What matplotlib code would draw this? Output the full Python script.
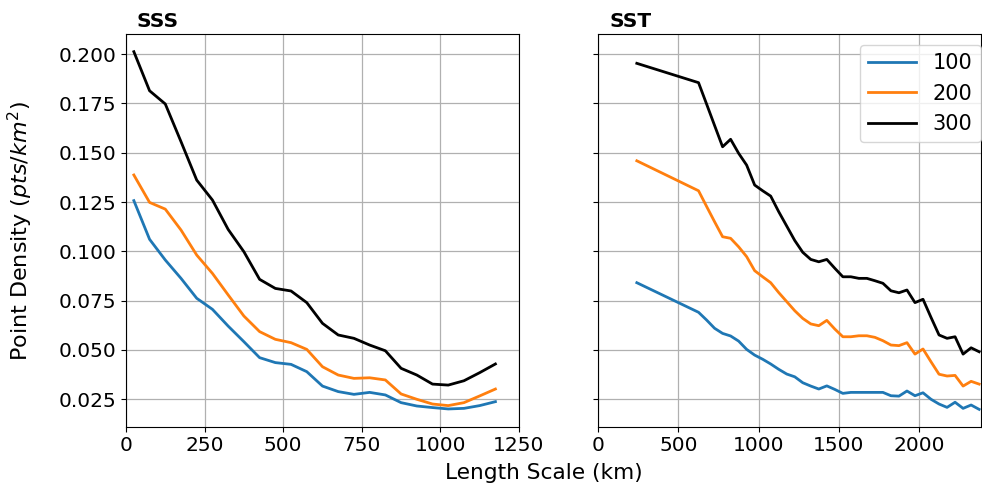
import matplotlib
matplotlib.use("Agg")
import matplotlib.pyplot as plt

# SSS panel: length scale (km) and point density per series
sss_x = [25, 75, 125, 175, 225, 275, 325, 375, 425, 475, 525, 575,
         625, 675, 725, 775, 825, 875, 925, 975, 1025, 1075, 1125, 1175]
sss_100 = [0.1257, 0.1061, 0.0956, 0.0863, 0.0762, 0.0706, 0.0621, 0.0542,
           0.0461, 0.0436, 0.0427, 0.0390, 0.0317, 0.0289, 0.0275, 0.0285,
           0.0272, 0.0233, 0.0216, 0.0208, 0.0201, 0.0204, 0.0218, 0.0238]
sss_200 = [0.1387, 0.1248, 0.1214, 0.1108, 0.0981, 0.0888, 0.0779, 0.0672,
           0.0593, 0.0554, 0.0537, 0.0503, 0.0415, 0.0373, 0.0356, 0.0359,
           0.0348, 0.0277, 0.0250, 0.0226, 0.0218, 0.0233, 0.0267, 0.0302]
sss_300 = [0.2012, 0.1814, 0.1747, 0.1556, 0.1361, 0.1260, 0.1111, 0.0998,
           0.0858, 0.0812, 0.0799, 0.0740, 0.0635, 0.0576, 0.0559, 0.0525,
           0.0496, 0.0407, 0.0373, 0.0327, 0.0322, 0.0344, 0.0385, 0.0429]

# SST panel
sst_x = [240, 625, 675, 725, 775, 825, 875, 925, 975, 1025, 1075, 1125,
         1175, 1225, 1275, 1325, 1375, 1425, 1475, 1525, 1575, 1625, 1675,
         1725, 1775, 1825, 1875, 1925, 1975, 2025, 2075, 2125, 2175, 2225,
         2275, 2325, 2375]
sst_100 = [0.0841, 0.0691, 0.0652, 0.0610, 0.0584, 0.0571, 0.0545, 0.0503,
           0.0474, 0.0453, 0.0429, 0.0402, 0.0378, 0.0364, 0.0334, 0.0317,
           0.0302, 0.0318, 0.0300, 0.0280, 0.0285, 0.0285, 0.0285, 0.0285,
           0.0285, 0.0268, 0.0266, 0.0292, 0.0268, 0.0283, 0.0250, 0.0226,
           0.0209, 0.0235, 0.0204, 0.0221, 0.0199]
sst_200 = [0.1459, 0.1307, 0.1228, 0.1150, 0.1074, 0.1066, 0.1023, 0.0973,
           0.0902, 0.0871, 0.0841, 0.0791, 0.0745, 0.0699, 0.0660, 0.0632,
           0.0623, 0.0650, 0.0606, 0.0567, 0.0567, 0.0572, 0.0572, 0.0564,
           0.0547, 0.0525, 0.0522, 0.0537, 0.0479, 0.0505, 0.0440, 0.0377,
           0.0368, 0.0371, 0.0317, 0.0341, 0.0327]
sst_300 = [0.1953, 0.1855, 0.1747, 0.1638, 0.1530, 0.1568, 0.1497, 0.1437,
           0.1336, 0.1307, 0.1280, 0.1201, 0.1128, 0.1055, 0.0995, 0.0959,
           0.0947, 0.0959, 0.0914, 0.0871, 0.0871, 0.0863, 0.0863, 0.0851,
           0.0838, 0.0800, 0.0790, 0.0804, 0.0740, 0.0757, 0.0665, 0.0576,
           0.0559, 0.0567, 0.0479, 0.0511, 0.0491]

labels = ["100", "200", "300"]
colors = ["#1f77b4", "#ff7f0e", "black"]

fig = plt.figure(figsize=(9.82, 4.87), dpi=100)
ax1 = fig.add_axes([0.1283, 0.1238, 0.4002, 0.8057])
ax2 = fig.add_axes([0.6093, 0.1238, 0.3894, 0.8057], sharey=ax1)

for ys, lab, c in zip([sss_100, sss_200, sss_300], labels, colors):
    ax1.plot(sss_x, ys, color=c, lw=2.0, label=lab)
for ys, lab, c in zip([sst_100, sst_200, sst_300], labels, colors):
    ax2.plot(sst_x, ys, color=c, lw=2.0, label=lab)

ax1.set_xlim(0, 1250)
ax2.set_xlim(0, 2385)
ax1.set_ylim(0.0111, 0.2100)
ax1.set_xticks([0, 250, 500, 750, 1000, 1250])
ax2.set_xticks([0, 500, 1000, 1500, 2000])
ax1.set_yticks([0.025, 0.050, 0.075, 0.100, 0.125, 0.150, 0.175, 0.200])

for ax in (ax1, ax2):
    ax.grid(True, color="#b0b0b0", lw=0.9)
    ax.tick_params(labelsize=14.5)
plt.setp(ax2.get_yticklabels(), visible=False)

ax1.text(0.028, 1.008, "SSS", transform=ax1.transAxes, fontsize=14.5,
         fontweight="bold", va="bottom", ha="left")
ax2.text(0.028, 1.008, "SST", transform=ax2.transAxes, fontsize=14.5,
         fontweight="bold", va="bottom", ha="left")

ax1.set_ylabel("Point Density ($pts/km^2$)", fontsize=16)
ax1.yaxis.set_label_coords(-0.232, 0.5)
fig.text(0.554, 0.029, "Length Scale (km)", fontsize=15.6, ha="center", va="center")

ax2.legend(loc="upper right", bbox_to_anchor=(1.0, 0.973), borderaxespad=0,
           fontsize=15, handlelength=2.3)

fig.savefig("out.png", dpi=100)
